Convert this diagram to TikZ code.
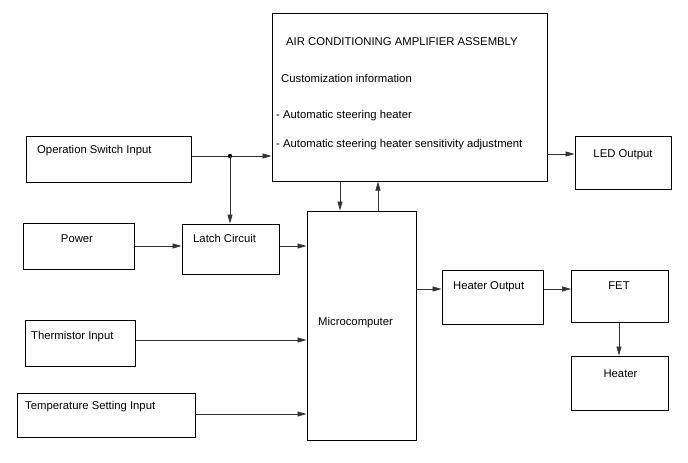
\documentclass[tikz,border=0pt]{standalone}
\usepackage{fontspec}
\setmainfont{Liberation Sans}
\usetikzlibrary{arrows.meta}
\colorlet{linegray}{black!80}

\begin{document}
\begin{tikzpicture}[x=1pt,y=-1pt,font=\fontsize{11.3}{13}\selectfont]
\tikzset{box/.style ={draw, line width=1pt, inner sep=0}}
\tikzset{txt/.style ={inner sep=0, anchor=base west}}
\tikzset{ctxt/.style ={inner sep=0, anchor=base}}
\tikzset{conn/.style ={-{Triangle[length=9pt,width=5pt]}, line width=0.7pt, color=linegray}}
\useasboundingbox (0,0) rectangle (688,463);
\node[box, minimum width=275, minimum height=168] (ac) at (409.5,97) {};
\node[box, minimum width=165, minimum height=46] (opsw) at (108.5,159) {};
\node[box, minimum width=96, minimum height=53] (led) at (623,162.5) {};
\node[box, minimum width=111, minimum height=46] (power) at (78.5,246.5) {};
\node[box, minimum width=97, minimum height=50] (latch) at (230.5,249) {};
\node[box, minimum width=109, minimum height=229] (micro) at (361.5,325.5) {};
\node[box, minimum width=110, minimum height=46] (therm) at (80,343) {};
\node[box, minimum width=178, minimum height=44] (temp) at (106,415) {};
\node[box, minimum width=101, minimum height=54] (hout) at (492.5,297) {};
\node[box, minimum width=97, minimum height=52] (fet) at (620,296) {};
\node[box, minimum width=97, minimum height=54] (heater) at (620,383) {};
\node[txt] (actitle) at (286,45.5) {AIR CONDITIONING AMPLIFIER ASSEMBLY};
\node[txt] (custom) at (281,82.5) {Customization information};
\node[txt] (item1) at (276,118.5) {- Automatic steering heater};
\node[txt] (item2) at (276,147.5) {- Automatic steering heater sensitivity adjustment};
\node[txt] (opswtxt) at (37,153.5) {Operation Switch Input};
\node[ctxt] (ledtxt) at (623,157.5) {LED Output};
\node[ctxt] (powertxt) at (77,242.5) {Power};
\node[txt] (latchtxt) at (193,242.5) {Latch Circuit};
\node[txt] (microtxt) at (318,325.5) {Microcomputer};
\node[txt] (thermtxt) at (31,339.5) {Thermistor Input};
\node[txt] (temptxt) at (25,409.5) {Temperature Setting Input};
\node[txt] (houttxt) at (453,289.5) {Heater Output};
\node[ctxt] (fettxt) at (619,289.5) {FET};
\node[ctxt] (heatertxt) at (620.5,377.5) {Heater};
\coordinate (split) at (230,156);
\draw[conn] (opsw.east |- split) -- (ac.west |- split);
\fill (split) circle (2.2);
\draw[conn] (split) -- (split |- latch.north);
\draw[conn] (ac.east |- 0,154) -- (led.west |- 0,154);
\draw[conn] (ac.south -| 340,0) -- (micro.north -| 340,0);
\draw[conn] (micro.north -| 378,0) -- (ac.south -| 378,0);
\draw[conn] (power.east |- 0,246) -- (latch.west |- 0,246);
\draw[conn] (latch.east |- 0,246) -- (micro.west |- 0,246);
\draw[conn] (therm.east |- 0,340) -- (micro.west |- 0,340);
\draw[conn] (temp.east |- 0,414) -- (micro.west |- 0,414);
\draw[conn] (micro.east |- 0,289) -- (hout.west |- 0,289);
\draw[conn] (hout.east |- 0,289) -- (fet.west |- 0,289);
\draw[conn] (fet.south -| 619,0) -- (heater.north -| 619,0);
\end{tikzpicture}
\end{document}
